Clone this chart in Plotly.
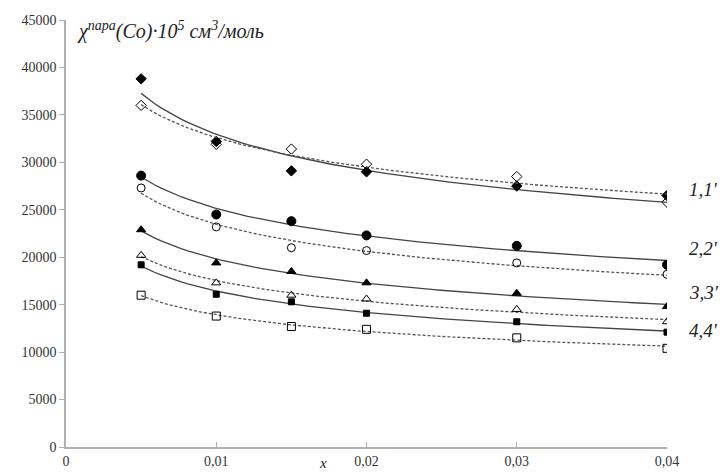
import numpy as np
import plotly.graph_objects as go

x_vals = [0.005, 0.01, 0.015, 0.02, 0.03, 0.04]
s1 = [38800, 32200, 29100, 29000, 27500, 26500]
s1p = [36000, 31900, 31400, 29800, 28500, 25800]
s2 = [28600, 24500, 23800, 22300, 21200, 19200]
s2p = [27300, 23200, 21000, 20700, 19400, 18200]
s3 = [22900, 19400, 18500, 17300, 16200, 14800]
s3p = [20200, 17300, 16000, 15600, 14500, 13200]
s4 = [19200, 16100, 15300, 14100, 13200, 12100]
s4p = [16000, 13800, 12700, 12400, 11500, 10400]

curve_labels = ["1,1'", "2,2'", "3,3'", "4,4'"]
label_y = [27100, 20900, 16300, 12300]
x_ticks = [0, 0.01, 0.02, 0.03, 0.04]
x_ticktext = ["0", "0,01", "0,02", "0,03", "0,04"]
y_ticks = list(range(0, 45001, 5000))

SERIF = "Liberation Serif, Times New Roman, DejaVu Serif, serif"

series = [
    (s1, "diamond", True), (s1p, "diamond-open", False),
    (s2, "circle", True), (s2p, "circle-open", False),
    (s3, "triangle-up", True), (s3p, "triangle-up-open", False),
    (s4, "square", True), (s4p, "square-open", False),
]
sizes = {"diamond": 8, "diamond-open": 8, "circle": 9, "circle-open": 8,
         "triangle-up": 8, "triangle-up-open": 8, "square": 6, "square-open": 8}

fig = go.Figure()
xa = np.array(x_vals)
xf = np.linspace(0.005, 0.04, 80)
for ys, sym, solid in series:
    ya = np.array(ys, dtype=float)
    b, a = np.polyfit(np.log(xa), np.log(ya), 1)
    yf = np.exp(a) * xf ** b
    fig.add_trace(go.Scatter(x=xf, y=yf, mode="lines",
                             line=dict(color="#444444" if solid else "#555555", width=1.3,
                                       dash="solid" if solid else "3px,2px"),
                             showlegend=False, hoverinfo="skip"))
    fig.add_trace(go.Scatter(x=x_vals, y=ys, mode="markers",
                             marker=dict(symbol=sym, size=sizes[sym], color="black",
                                         line=dict(color="black", width=1)),
                             showlegend=False))

for lab, ly in zip(curve_labels, label_y):
    fig.add_annotation(x=1.0, xref="paper", xshift=20, y=ly, yref="y",
                       text="<i>" + lab + "</i>",
                       showarrow=False, xanchor="left",
                       font=dict(family=SERIF, size=19, color="#222"))

fig.add_annotation(x=0.0006, xref="x", y=1.0, yref="paper", yshift=4,
                   text="<i>χ<sup>пара</sup>(Co)·10<sup>5</sup> см<sup>3</sup>/моль</i>",
                   showarrow=False, xanchor="left", yanchor="top",
                   font=dict(family=SERIF, size=20, color="#222"))
fig.add_annotation(x=0.0171, xref="x", y=0, yref="paper", yshift=-26,
                   text="<i>x</i>", showarrow=False, xanchor="center", yanchor="bottom",
                   font=dict(family=SERIF, size=15, color="#222"))

fig.update_layout(
    width=720, height=473,
    margin=dict(l=66, r=53, t=20, b=26),
    plot_bgcolor="white", paper_bgcolor="white",
    font=dict(family=SERIF, size=12, color="#333"),
    xaxis=dict(range=[0, 0.04], tickvals=x_ticks, ticktext=x_ticktext,
               showgrid=False, zeroline=False, showline=True, linecolor="#b0b0b0",
               linewidth=1.5, ticks="inside", ticklen=5, tickcolor="#b0b0b0",
               tickfont=dict(family=SERIF, size=14, color="#333"), automargin=False),
    yaxis=dict(range=[0, 45000], tickvals=y_ticks, showgrid=False, zeroline=False,
               showline=True, linecolor="#b0b0b0", linewidth=1.5, ticks="outside",
               ticklen=5, tickcolor="#b0b0b0",
               tickfont=dict(family=SERIF, size=14, color="#333"),
               tickformat="d", automargin=False),
)

fig.write_html("out.html", config={"displayModeBar": False},
               post_script="document.body.style.margin='0';document.body.style.padding='0';")
